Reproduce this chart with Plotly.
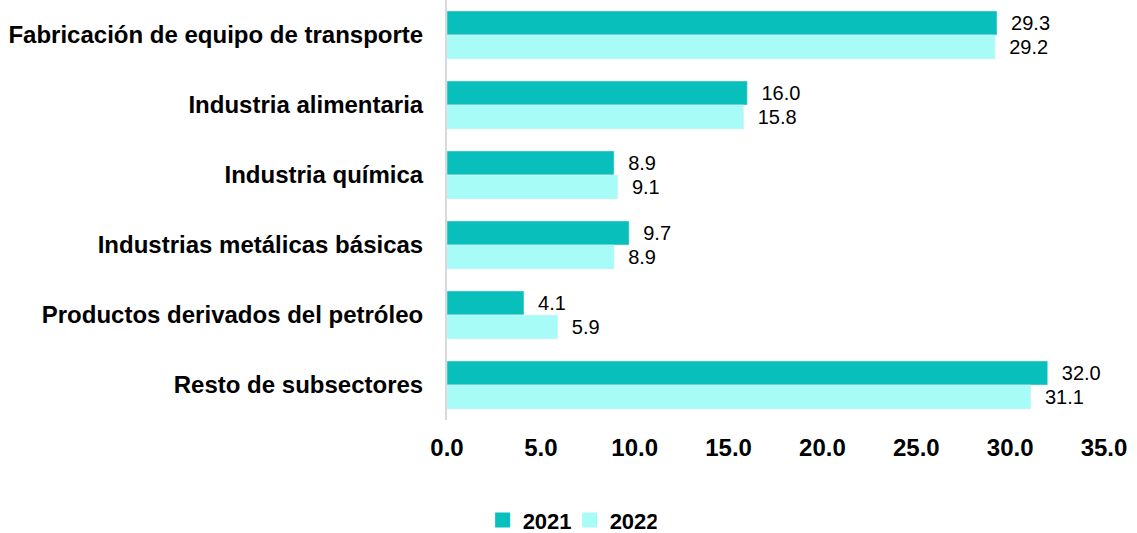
import plotly.graph_objects as go

categories = ["Fabricación de equipo de transporte", "Industria alimentaria", "Industria química",
              "Industrias metálicas básicas", "Productos derivados del petróleo", "Resto de subsectores"]
values_2021 = [29.3, 16.0, 8.9, 9.7, 4.1, 32.0]
values_2022 = [29.2, 15.8, 9.1, 8.9, 5.9, 31.1]
x_ticks = [0, 5, 10, 15, 20, 25, 30, 35]
series_names = ["2021", "2022"]
series_colors = ["#08BFBB", "#A8FCF8"]

FONT = "Liberation Sans, Arial, sans-serif"
PAD = "\u00a0\u00a0"

fig = go.Figure()
for name, vals, color in zip(series_names, [values_2021, values_2022], series_colors):
    fig.add_trace(go.Bar(y=categories, x=vals, name=name, orientation="h",
                         marker=dict(color=color), showlegend=False, legendgroup=name,
                         text=[f"{PAD}{v:.1f}" for v in vals], textposition="outside",
                         textfont=dict(family=FONT, size=20, color="#000000"), cliponaxis=False))
for name, color in zip(series_names, series_colors):
    fig.add_trace(go.Scatter(x=[None], y=[None], mode="markers", name=name, legendgroup=name,
                             marker=dict(symbol="square", size=15, color=color)))

fig.update_layout(
    width=1137, height=533,
    margin=dict(l=447, r=33, t=0, b=113),
    plot_bgcolor="white", paper_bgcolor="white",
    barmode="group", bargap=0.314, bargroupgap=0,
    font=dict(family=FONT, size=20, color="#000000"),
    showlegend=True,
    legend=dict(orientation="h", xref="container", x=0.501, xanchor="center",
                yref="container", y=0.024, yanchor="middle",
                font=dict(family=FONT, size=22, color="#000000", weight="bold"),
                itemwidth=30, traceorder="normal",
                entrywidth=42, entrywidthmode="pixels"),
)
fig.update_xaxes(range=[0, 35], tickvals=x_ticks, ticktext=[f"{t:.1f}" for t in x_ticks],
                 showgrid=False, zeroline=False, showline=False,
                 tickfont=dict(family=FONT, size=24, color="#000000", weight="bold"),
                 ticklabelstandoff=11)
fig.update_yaxes(autorange="reversed", showgrid=False, zeroline=False,
                 showline=True, linecolor="#D9D9D9", linewidth=2,
                 tickfont=dict(family=FONT, size=24, color="#000000", weight="bold"),
                 ticklabelstandoff=17)

fig.write_html("out.html", config={"displayModeBar": False},
               post_script="document.body.style.margin='0';")
